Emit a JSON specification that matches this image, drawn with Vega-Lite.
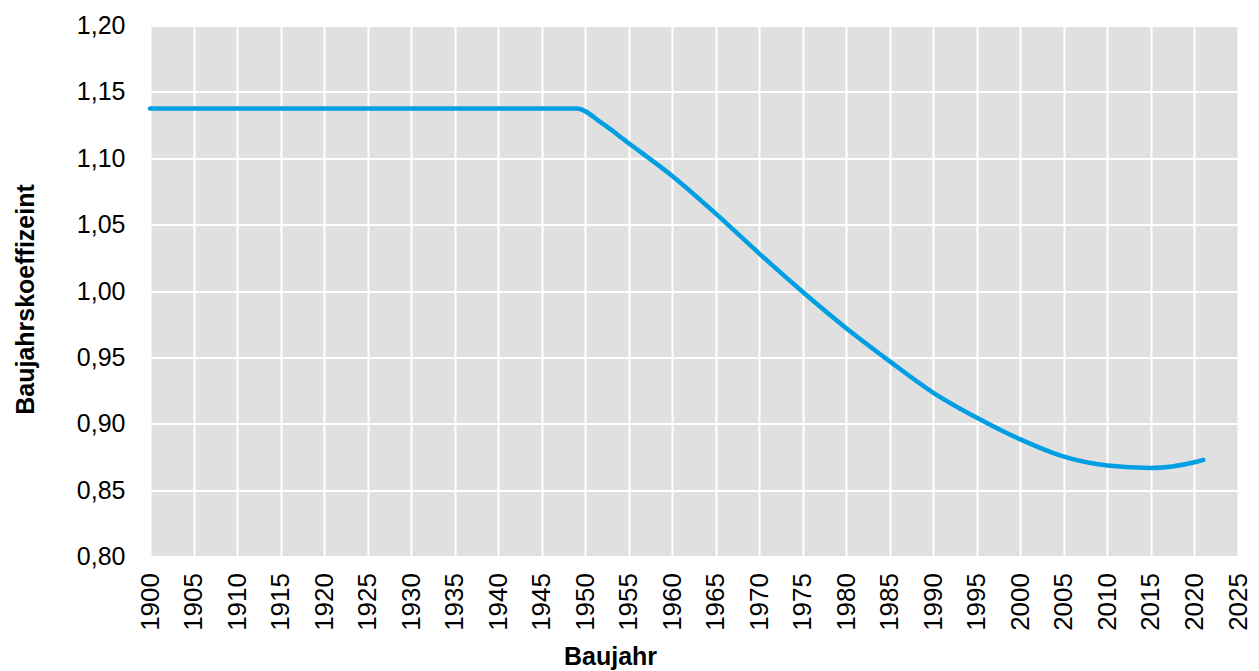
{
  "$schema": "https://vega.github.io/schema/vega-lite/v6.json",
  "autosize": "none",
  "width": 1088,
  "height": 531,
  "padding": {"left": 150, "top": 25.5, "right": 21, "bottom": 114.5},
  "background": "white",
  "config": {
    "locale": {"number": {"decimal": ",", "thousands": ".", "grouping": [3], "currency": ["", " €"]}},
    "view": {"fill": "#e0e0e0", "stroke": null},
    "font": "Liberation Sans",
    "axis": {
      "labelFont": "Liberation Sans",
      "titleFont": "Liberation Sans",
      "labelColor": "#000000",
      "titleColor": "#000000",
      "domain": false,
      "ticks": false,
      "tickSize": 0,
      "grid": true,
      "gridColor": "#ffffff",
      "gridWidth": 2,
      "gridOpacity": 1
    }
  },
  "data": {
    "values": [
      {"Baujahr": 1900, "Koeffizient": 1.1375},
      {"Baujahr": 1949, "Koeffizient": 1.1375},
      {"Baujahr": 1952, "Koeffizient": 1.126},
      {"Baujahr": 1955, "Koeffizient": 1.1113},
      {"Baujahr": 1960, "Koeffizient": 1.0867},
      {"Baujahr": 1965, "Koeffizient": 1.0583},
      {"Baujahr": 1970, "Koeffizient": 1.0282},
      {"Baujahr": 1975, "Koeffizient": 0.9993},
      {"Baujahr": 1980, "Koeffizient": 0.972},
      {"Baujahr": 1985, "Koeffizient": 0.947},
      {"Baujahr": 1990, "Koeffizient": 0.9233},
      {"Baujahr": 1995, "Koeffizient": 0.9045},
      {"Baujahr": 2000, "Koeffizient": 0.8882},
      {"Baujahr": 2005, "Koeffizient": 0.8752},
      {"Baujahr": 2010, "Koeffizient": 0.8685},
      {"Baujahr": 2015, "Koeffizient": 0.8667},
      {"Baujahr": 2020, "Koeffizient": 0.871},
      {"Baujahr": 2021, "Koeffizient": 0.8728}
    ]
  },
  "mark": {"type": "line", "color": "#009fe3", "strokeWidth": 4.5, "interpolate": "monotone", "strokeCap": "round"},
  "encoding": {
    "x": {
      "field": "Baujahr",
      "type": "quantitative",
      "scale": {"domain": [1900, 2025], "nice": false, "zero": false},
      "axis": {
        "title": "Baujahr",
        "values": [1900,1905,1910,1915,1920,1925,1930,1935,1940,1945,1950,1955,1960,1965,1970,1975,1980,1985,1990,1995,2000,2005,2010,2015,2020,2025],
        "format": "d",
        "labelAngle": -90,
        "labelFontSize": 26,
        "labelPadding": 16,
        "labelOverlap": false,
        "labelFlush": false,
        "titleFontSize": 25,
        "titleFontWeight": "bold",
        "titleX": 460,
        "titleY": 88,
        "titleBaseline": "top",
        "titleAnchor": null,
        "titleAlign": "center"
      }
    },
    "y": {
      "field": "Koeffizient",
      "type": "quantitative",
      "scale": {"domain": [0.8, 1.2], "nice": false, "zero": false},
      "axis": {
        "title": "Baujahrskoeffizeint",
        "values": [0.8, 0.85, 0.9, 0.95, 1.0, 1.05, 1.1, 1.15, 1.2],
        "format": ".2f",
        "labelFontSize": 25,
        "labelPadding": 25,
        "labelFlush": false,
        "labelOverlap": false,
        "titleFontSize": 25,
        "titleFontWeight": "bold",
        "titleX": -117,
        "titleY": 273.5,
        "titleBaseline": "alphabetic",
        "titleAlign": "center",
        "titleAngle": -90
      }
    }
  }
}
